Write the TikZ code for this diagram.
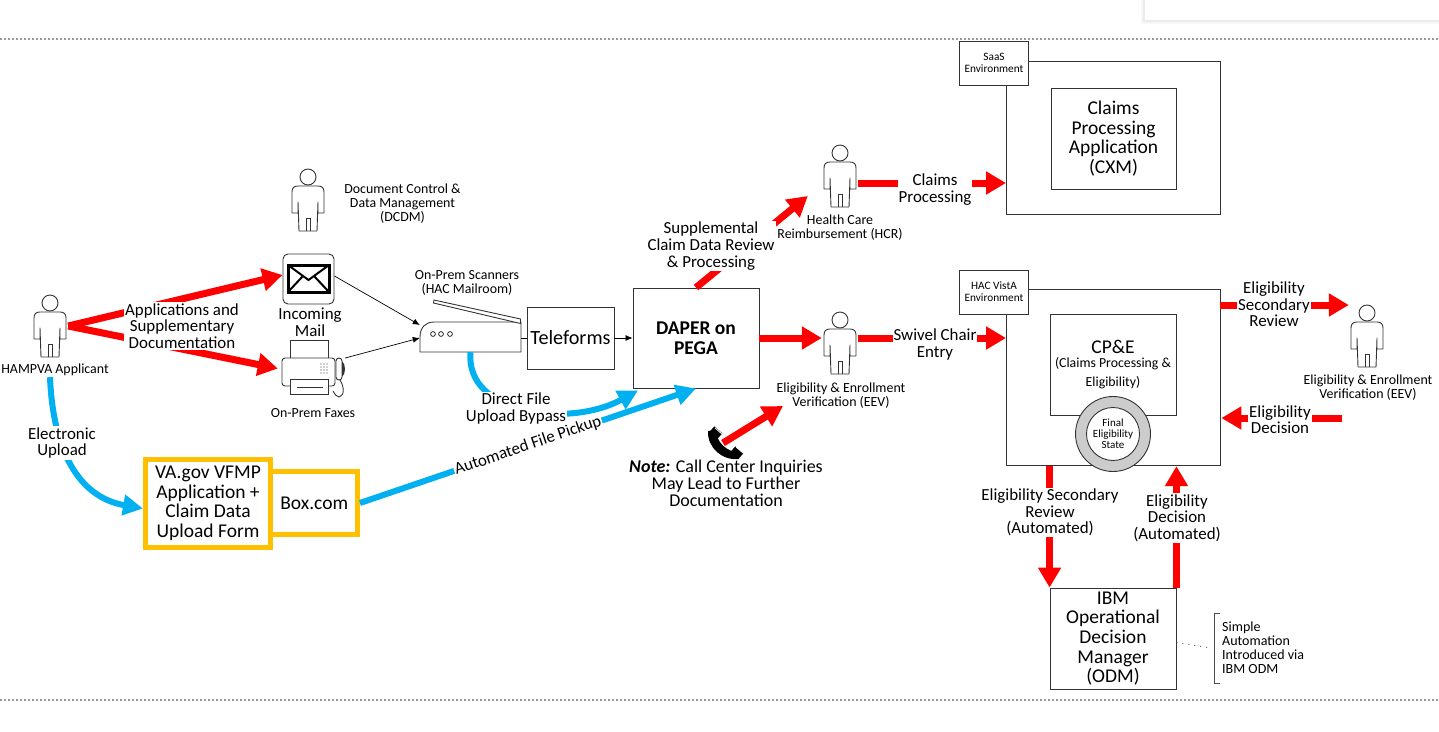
\documentclass[tikz,border=0pt]{standalone}
\usepackage{fontspec}
\setmainfont{Carlito}
\usetikzlibrary{arrows.meta}
\definecolor{flowred}{RGB}{255,0,0}
\definecolor{flowblue}{RGB}{0,176,240}
\definecolor{flowgold}{RGB}{255,192,0}
\newcommand{\fsmall}{\fontsize{13.9}{14}\selectfont}
\newcommand{\fmid}{\fontsize{16.9}{16.6}\selectfont}
\newcommand{\fbig}{\fontsize{19.5}{19.6}\selectfont}
\newcommand{\fcpe}{\fontsize{13.8}{14}\selectfont}
\newcommand{\ftag}{\fontsize{11.3}{12}\selectfont}
\tikzset{
  redarrow/.style={draw=flowred,line width=7pt,-{Triangle[length=20pt,width=22pt]}},
  bluearrow/.style={draw=flowblue,line width=6pt,-{Triangle[length=20pt,width=20pt]}},
  thinarrow/.style={draw=black,line width=0.7pt,-{Latex[length=7pt,width=6pt]}},
  outline/.style={draw=black!80,line width=0.9pt},
  plainbox/.style={outline,fill=white,inner sep=0pt,align=center},
  goldbox/.style={draw=flowgold,line width=5pt,fill=white,inner sep=0pt,align=center,font=\fbig},
  lbl/.style={fill=white,inner sep=1pt,align=center,font=\fmid,yshift=-1pt},
  smalllbl/.style={inner sep=0pt,align=center,font=\fsmall,yshift=-1pt},
  pics/person/.style={code={
    \node (-b) [minimum width=36pt,minimum height=62pt,inner sep=0pt] at (0,23) {};
    \draw[outline,fill=white] (0,0) circle(8);
    \draw[outline,fill=white,line join=round] (-9,54) -- (-10,25) -- (-10,36) -- (-16,36) -- (-16,15)
      .. controls (-16,11) and (-14,9) .. (-10,9) -- (10,9)
      .. controls (14,9) and (16,11) .. (16,15) -- (16,36) -- (10,36) -- (10,25) -- (9,54) -- cycle;
    \draw[outline] (-2,54) -- (-2,41) -- (2,41) -- (2,54);
  }},
}
\begin{document}
\begin{tikzpicture}[x=1pt,y=-1pt]
  \useasboundingbox (0,0) rectangle (1439,731);
  % page furniture
  \fill[black!3] (1141,0) rectangle (1439,24);
  \fill[black!8] (1143,0) rectangle (1439,22);
  \fill[white] (1145,0) rectangle (1439,20);
  \draw[black!40,line width=1.5pt,dash pattern=on 2pt off 2pt] (0,39) -- (1439,39);
  \draw[black!40,line width=1.5pt,dash pattern=on 2pt off 2pt] (0,700) -- (1439,700);

  % people
  \pic (appl) at (50,303) {person};
  \pic (dcdm) at (308,177) {person};
  \pic (hcr) at (840,153) {person};
  \pic (eev) at (840,320) {person};
  \pic (eevr) at (1367,313) {person};
  \node[smalllbl] (appltxt) at (55,369) {HAMPVA Applicant};
  \node[smalllbl] (dcdmtxt) at (402.5,203) {Document Control \&\\Data Management\\(DCDM)};
  \node[smalllbl] (hcrtxt) at (840,226.5) {Health Care\\Reimbursement (HCR)};
  \node[smalllbl] (eevtxt) at (841,395) {Eligibility \& Enrollment\\Verification (EEV)};
  \node[smalllbl] (eevrtxt) at (1368,387) {Eligibility \& Enrollment\\Verification (EEV)};

  % mail
  \node[outline,rounded corners=5pt,minimum width=51pt,minimum height=50pt,inner sep=0pt] (mail) at (308.5,279) {};
  \draw[line width=3pt] (288,265) rectangle (329,292);
  \draw[line width=2pt] (288,265) -- (308.5,280) -- (329,265) (288,292) -- (303,276) (329,292) -- (314,276);
  \node[font=\fmid,align=center,inner sep=0pt] (mailtxt) at (310,322) {Incoming\\Mail};

  % fax
  \node[minimum width=63pt,minimum height=57pt,inner sep=0pt] (fax) at (313.5,368.5) {};
  \draw[outline,fill=white] (290,340) rectangle (328,358);
  \draw[outline,fill=white,rounded corners=3pt] (282,386) -- (282,358) -- (335,358) -- (335,386) -- cycle;
  \draw[outline,fill=white] (290,379) rectangle (328,394);
  \draw[outline] (297,387) -- (323,387);
  \foreach \kx in {321,324,327} \foreach \ky in {364,367,370,373}
    \fill[black!75] (\kx,\ky) circle(0.7);
  \draw[outline,fill=white,rounded corners=3pt] (336,358) rectangle (342,380);
  \fill[black!80] (342,361) .. controls (346,364) and (346,374) .. (342,377) -- cycle;
  \draw[outline] (340,380) .. controls (344,386) and (345,396) .. (339,397) .. controls (336,397) and (335,394) .. (333,391);
  \node[smalllbl] (faxtxt) at (313,412) {On-Prem Faxes};

  % scanner
  \node[minimum width=101pt,minimum height=30pt,inner sep=0pt] (scanner) at (470.5,337) {};
  \draw[outline,fill=white] (420,352) -- (420,337) .. controls (420,327) and (426,322) .. (434,322) -- (521,322) -- (521,352) -- cycle;
  \draw[outline,fill=white] (434,300) -- (520.5,319) -- (520.5,323.5) -- (433.5,303) -- cycle;
  \foreach \dx in {433,441,450} \draw[black!85,line width=0.8pt] (\dx,334) circle(2.4);
  \node[smalllbl] (scantxt) at (467,282) {On-Prem Scanners\\(HAC Mailroom)};

  % boxes
  \node[plainbox,minimum width=87pt,minimum height=62pt,font=\fontsize{20.2}{21}\selectfont] (teleforms) at (570.5,338) {Teleforms};
  \node[plainbox,minimum width=126pt,minimum height=100pt,font=\bfseries\fbig] (dapper) at (696,338) {DAPER on\\PEGA};
  \node[goldbox,minimum width=86.5pt,minimum height=63pt] (boxcom) at (314.2,503) {Box.com};
  \node[goldbox,minimum width=125pt,minimum height=88pt] (vagov) at (208,503.5) {VA.gov VFMP\\Application +\\Claim Data\\Upload Form};

  % environments
  \node[plainbox,minimum width=213.5pt,minimum height=153pt] (envsaas) at (1113.2,137.5) {};
  \node[plainbox,minimum width=125pt,minimum height=101pt,font=\fbig] (cxm) at (1113.5,138.5) {Claims\\Processing\\Application\\(CXM)};
  \node[plainbox,minimum width=69pt,minimum height=44pt,font=\ftag] (saastag) at (994,63) {SaaS\\Environment};
  \node[plainbox,minimum width=213.5pt,minimum height=176.7pt] (envhac) at (1113.2,377.4) {};
  \node[plainbox,minimum width=126pt,minimum height=101pt,font=\fbig] (cpe) at (1113,364.5) {CP\&E\\[-5pt]\fcpe (Claims Processing \&\\[-1pt]\fcpe Eligibility)};
  \node[plainbox,minimum width=69pt,minimum height=44pt,font=\ftag] (hactag) at (994,292) {HAC VistA\\Environment};
  \node[circle,outline,fill=black!20,minimum size=75pt,inner sep=0pt] (statering) at (1113,434) {};
  \node[circle,outline,fill=white,minimum size=53pt,inner sep=0pt,align=center,font=\fontsize{11}{11}\selectfont] (state) at (1113,434) {Final\\Eligibility\\State};
  \node[plainbox,minimum width=126pt,minimum height=101pt,font=\fbig] (odm) at (1113,638.5) {IBM\\Operational\\Decision\\Manager\\(ODM)};
  \node[inner sep=4pt,align=left,anchor=west,font=\fontsize{14}{14}\selectfont] (autonote) at (1218,648) {Simple\\Automation\\Introduced via\\IBM ODM};
  \draw[black!70,line width=1pt] (1220,613) -- (1214,613) -- (1214,683) -- (1220,683);
  \draw[black!70,line width=0.8pt,dash pattern=on 1pt off 5pt] ([yshift=-4pt]odm.east) -- ([xshift=-7pt]autonote.west);

  % phone
  \node[minimum size=30pt,inner sep=0pt] (phone) at (723,443) {};
  \fill[black] (708,431) .. controls (707,447) and (722,461) .. (739,459) -- (738,452) .. controls (727,452) and (716,442) .. (716,430) -- cycle;
  \draw[black,line width=7pt] (712,429) -- (720,436) (733,449) -- (741,456);
  \draw[white,line width=0.8pt] (715,428) -- (722,434) (736,447) -- (743,453);

  % thin connectors
  \draw[thinarrow] ([yshift=3pt]mail.east) -- ([yshift=12pt]scanner.west);
  \draw[thinarrow] ([yshift=10.5pt]fax.east) -- ([yshift=-1pt]scanner.west);
  \draw[line width=0.7pt] (teleforms.west -| scanner.east) -- (teleforms.west);
  \draw[thinarrow] (teleforms.east) -- (dapper.west);

  % blue connectors
  \draw[bluearrow] ([xshift=-5pt,yshift=-1pt]appltxt.south) .. controls (53,450) and (78,497) .. ([yshift=-5pt]vagov.west);
  \draw[bluearrow] (scanner.south) .. controls (465,415) and (570,428) .. ([xshift=-58pt,yshift=-2pt]dapper.south);
  \draw[bluearrow] (boxcom.east) -- node[lbl,sloped,pos=.5,yshift=1pt] (pickup) {Automated File Pickup} (dapper.south);

  % red connectors
  \draw[redarrow] (appl-b.east) -- ([yshift=4pt]mail.west);
  \draw[redarrow] (appl-b.east) -- ([xshift=-4pt]fax.west);
  \draw[redarrow] (dapper.east) -- (dapper.east -| eev-b.west);
  \draw[redarrow] (dapper.north) -- ([xshift=-14pt,yshift=-20pt]hcr-b.west);
  \draw[redarrow] ([yshift=-7pt]hcr-b.east) -- ([yshift=-45.5pt]envsaas.west);
  \draw[redarrow] (eev-b.east |- dapper.east) -- (dapper.east -| envhac.west);
  \draw[redarrow] (phone.center) -- ([xshift=-58pt,yshift=-10pt]eevtxt.center);
  \draw[redarrow] ([yshift=72.4pt]envhac.east) -- ([yshift=31pt]eevr-b.west);
  \coordinate (decstart) at (1342,418);
  \draw[redarrow] (decstart) -- ([yshift=-40.6pt,xshift=1pt]envhac.east);
  \draw[redarrow] (odm.north west |- envhac.south) -- (odm.north west);
  \draw[redarrow] (odm.north east) -- (odm.north east |- envhac.south);

  % labels on top of the connectors
  \node[lbl] (appsdoc) at (182,325) {Applications and\\Supplementary\\Documentation};
  \node[lbl] (eupload) at (62,442) {Electronic\\Upload};
  \node[lbl] (bypass) at (516,407.5) {Direct File\\Upload Bypass};
  \node[lbl] (suppl) at (711,245) {Supplemental\\Claim Data Review\\\& Processing};
  \node[lbl] (claims) at (935,188.5) {Claims\\Processing};
  \node[lbl] (swivel) at (935,343.5) {Swivel Chair\\Entry};
  \node[inner sep=0pt,align=center,font=\fontsize{18}{17}\selectfont] (note) at (726,483) {\textbf{\textit{Note:}} Call Center Inquiries\\May Lead to Further\\Documentation};
  \node[lbl] (secrev) at (1274,303.5) {Eligibility\\Secondary\\Review};
  \node[lbl] (decis) at (1280,418.5) {Eligibility\\Decision};
  \node[lbl] (secauto) at (1050,511.5) {Eligibility Secondary\\Review\\(Automated)};
  \node[lbl] (decauto) at (1177,517) {Eligibility\\Decision\\(Automated)};
\end{tikzpicture}
\end{document}
